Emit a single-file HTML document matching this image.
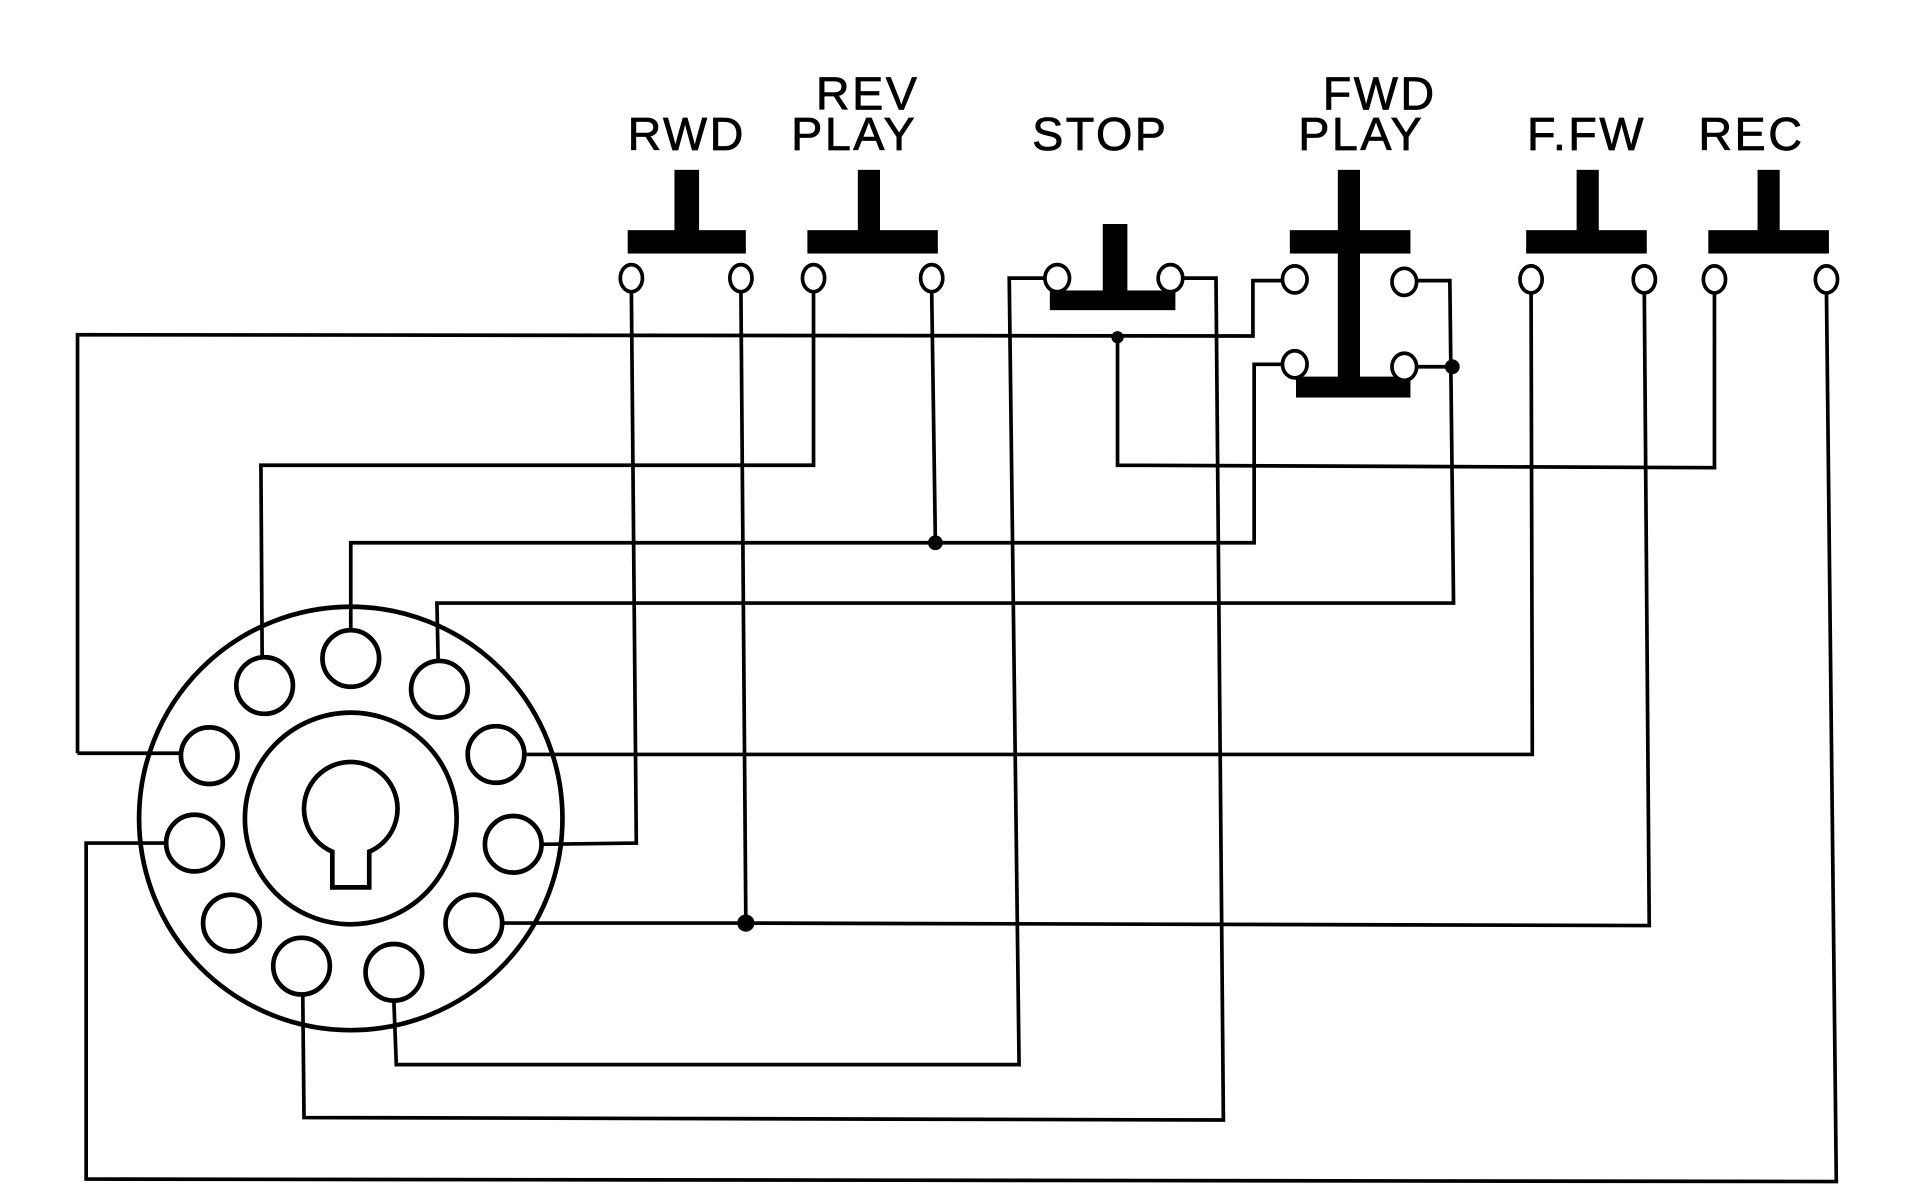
<!DOCTYPE html>
<html><head><meta charset="utf-8"><style>html,body{margin:0;padding:0;background:#fff;}svg{display:block}</style></head>
<body>
<svg width="1920" height="1200" viewBox="0 0 1560 975" xmlns="http://www.w3.org/2000/svg">
<rect width="1560" height="975" fill="#fff"/>
<g font-family="Liberation Sans, sans-serif" font-size="38" fill="#000" text-anchor="middle" letter-spacing="2" stroke="#000" stroke-width="0.6">
<text x="558" y="122">RWD</text>
<text x="705" y="89">REV</text>
<text x="694" y="122">PLAY</text>
<text x="894" y="122">STOP</text>
<text x="1121" y="89">FWD</text>
<text x="1106" y="122">PLAY</text>
<text x="1289" y="122">F.FW</text>
<text x="1423" y="122">REC</text>
</g>
<g fill="#000">
<rect x="548" y="138" width="20" height="52"/><rect x="510" y="187" width="96" height="19"/>
<rect x="697" y="138" width="18" height="52"/><rect x="656" y="187" width="106" height="19"/>
<rect x="896" y="182" width="20" height="58"/><rect x="853" y="236" width="102" height="16"/>
<rect x="1087" y="138" width="18" height="182"/><rect x="1048" y="187" width="98" height="19"/><rect x="1053" y="306" width="93" height="17"/>
<rect x="1281" y="138" width="18" height="52"/><rect x="1240" y="187" width="98" height="19"/>
<rect x="1428" y="138" width="18" height="52"/><rect x="1388" y="187" width="98" height="19"/>
<circle cx="908" cy="274" r="5"/><circle cx="760" cy="441" r="6"/><circle cx="606" cy="750" r="7"/><circle cx="1180" cy="298" r="6"/>
</g>
<g fill="none" stroke="#000" stroke-width="3">
<path d="M63 612 L63 272 L1018 273 L1018 228 L1043 228"/>
<path d="M908 274 L908 378 L1393 380 L1393 237"/>
<path d="M513 237 L517 685 L439 686"/>
<path d="M602 237 L606 750 L408 750"/>
<path d="M606 750 L1340 752 L1336 237"/>
<path d="M661 237 L661 378 L212 378 L213 534"/>
<path d="M757 237 L760 441 L285 441 L285 512"/>
<path d="M760 441 L1019 441 L1019 296 L1043 296"/>
<path d="M850 226 L820 226 L828 865 L322 865 L320 813"/>
<path d="M960 226 L988 226 L994 910 L247 908 L246 808"/>
<path d="M1150 228 L1178 228 L1181 490 L355 490 L356 537"/>
<path d="M1150 298 L1180 298"/>
<path d="M1244 237 L1245 613 L426 613"/>
<path d="M1484 237 L1492 960 L70 958 L70 685 L135 685"/>
<path d="M147 612 L63 612"/>
</g>
<g fill="#fff" stroke="#000" stroke-width="3">
<ellipse cx="513" cy="226" rx="9" ry="11"/><ellipse cx="602" cy="226" rx="9" ry="11"/>
<ellipse cx="661" cy="226" rx="9" ry="11"/><ellipse cx="757" cy="226" rx="9" ry="11"/>
<ellipse cx="859" cy="226" rx="10" ry="11"/><ellipse cx="951" cy="226" rx="10" ry="11"/>
<ellipse cx="1052" cy="227" rx="10" ry="11"/><ellipse cx="1141" cy="229" rx="10" ry="11"/>
<ellipse cx="1052" cy="296" rx="10" ry="11"/><ellipse cx="1141" cy="298" rx="10" ry="11"/>
<ellipse cx="1244" cy="227" rx="9" ry="11"/><ellipse cx="1336" cy="227" rx="9" ry="11"/>
<ellipse cx="1393" cy="227" rx="9" ry="11"/><ellipse cx="1484" cy="227" rx="9" ry="11"/>
</g>
<g fill="none" stroke="#000" stroke-width="3.8">
<circle cx="285" cy="665" r="172"/>
<circle cx="285" cy="665" r="86"/>
<path d="M270 692 A38 38 0 1 1 300 692 L300 721 L270 721 Z"/>
<circle cx="285" cy="535" r="23"/><circle cx="215" cy="557" r="23"/><circle cx="357" cy="560" r="23"/>
<circle cx="170" cy="614" r="23"/><circle cx="403" cy="613" r="23"/>
<circle cx="158" cy="685" r="23"/><circle cx="417" cy="686" r="23"/>
<circle cx="188" cy="750" r="23"/><circle cx="385" cy="750" r="23"/>
<circle cx="245" cy="785" r="23"/><circle cx="320" cy="790" r="23"/>
</g>
</svg>
</body></html>
